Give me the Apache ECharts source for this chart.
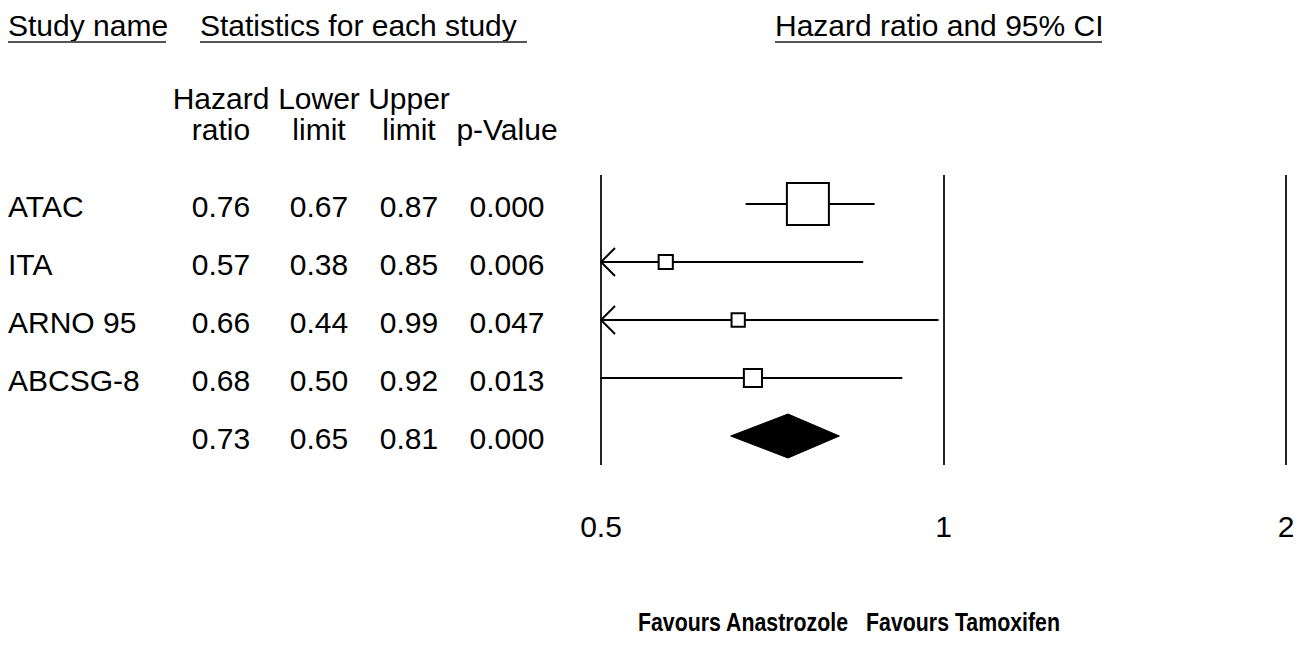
<!DOCTYPE html>
<html>
<head>
<meta charset="utf-8">
<script src="https://cdn.jsdelivr.net/npm/echarts@6/dist/echarts.min.js"></script>
<style>
  html, body { margin: 0; padding: 0; background: #ffffff; }
  #chart { width: 1307px; height: 664px; }
</style>
</head>
<body>
<div id="chart"></div>
<script>
// ---- data ----
const studies = ['ATAC', 'ITA', 'ARNO 95', 'ABCSG-8', ''];
const hazardRatio = [0.76, 0.57, 0.66, 0.68, 0.73];
const lowerLimit = [0.67, 0.38, 0.44, 0.50, 0.65];
const upperLimit = [0.87, 0.85, 0.99, 0.92, 0.81];
const pValue = ['0.000', '0.006', '0.047', '0.013', '0.000'];
const relWeight = [70, 8, 7, 13, 0];          // relative weight (%)
const isSummary = [false, false, false, false, true];
const tickValues = [0.5, 1, 2];
const columnHeaders1 = ['Hazard', 'Lower', 'Upper', ''];
const columnHeaders2 = ['ratio', 'limit', 'limit', 'p-Value'];
const favourLabels = ['Favours Anastrozole', 'Favours Tamoxifen'];

// ---- layout / style ----
const FONT = "'Liberation Sans', Arial, sans-serif";
const FS = 30;
const xMin = tickValues[0], xMax = tickValues[tickValues.length - 1];
const colX = [221, 319, 409, 507];
const nameX = 8;

const rows = studies.map((s, i) => [i, hazardRatio[i], lowerLimit[i], upperLimit[i], relWeight[i], isSummary[i] ? 1 : 0]);

function forestItem(params, api) {
  const row = api.value(0);
  const hr = api.value(1), lo = api.value(2), hi = api.value(3), w = api.value(4), summ = api.value(5);
  const loC = Math.max(lo, xMin), hiC = Math.min(hi, xMax);
  const pC = api.coord([hr, row]);
  const pL = api.coord([loC, row]);
  const pH = api.coord([hiC, row]);
  const y = pC[1];
  const stroke = { stroke: '#000', lineWidth: 2, fill: null };
  if (summ) {
    const h = 22;
    return {
      type: 'polygon',
      shape: { points: [[pL[0], y], [pC[0], y - h], [pH[0], y], [pC[0], y + h]] },
      style: { fill: '#000', stroke: '#000', lineWidth: 1 }
    };
  }
  const children = [{
    type: 'line', shape: { x1: pL[0], y1: y, x2: pH[0], y2: y }, style: stroke
  }];
  if (lo < xMin) {
    children.push({ type: 'line', shape: { x1: pL[0], y1: y, x2: pL[0] + 14, y2: y - 14 }, style: stroke });
    children.push({ type: 'line', shape: { x1: pL[0], y1: y, x2: pL[0] + 14, y2: y + 14 }, style: stroke });
  }
  if (hi > xMax) {
    children.push({ type: 'line', shape: { x1: pH[0], y1: y, x2: pH[0] - 14, y2: y - 14 }, style: stroke });
    children.push({ type: 'line', shape: { x1: pH[0], y1: y, x2: pH[0] - 14, y2: y + 14 }, style: stroke });
  }
  const s = 5.02 * Math.sqrt(w);
  children.push({
    type: 'rect', shape: { x: pC[0] - s / 2, y: y - s / 2, width: s, height: s },
    style: { fill: '#fff', stroke: '#000', lineWidth: 2 }
  });
  return { type: 'group', children: children };
}

function tableItem(params, api) {
  const i = params.dataIndex;
  const y = api.coord([xMin, api.value(0)])[1] + 2;
  const t = (txt, x, align) => ({
    type: 'text', x: x, y: y,
    style: { text: txt, font: FS + 'px ' + FONT, fill: '#000', align: align, verticalAlign: 'middle' }
  });
  return {
    type: 'group',
    children: [
      t(studies[i], nameX, 'left'),
      t(hazardRatio[i].toFixed(2), colX[0], 'center'),
      t(lowerLimit[i].toFixed(2), colX[1], 'center'),
      t(upperLimit[i].toFixed(2), colX[2], 'center'),
      t(pValue[i], colX[3], 'center')
    ]
  };
}

const txt = (s, x, y, align, font, sx) => ({
  type: 'text', x: x, y: y, scaleX: sx || 1,
  style: { text: s, font: font || (FS + 'px ' + FONT), fill: '#000', align: align || 'left', verticalAlign: 'middle' }
});
const uline = (x1, x2, y) => ({
  type: 'line', shape: { x1: x1, y1: y, x2: x2, y2: y }, style: { stroke: '#555', lineWidth: 2 }
});

const graphics = [
  txt('Study name', 8, 25),
  uline(8, 166, 42),
  txt('Statistics for each study', 200, 25),
  uline(200, 527, 42),
  txt('Hazard ratio and 95% CI', 775, 25),
  uline(775, 1102, 42)
];
columnHeaders1.forEach((h, k) => { if (h) graphics.push(txt(h, colX[k], 98, 'center')); });
columnHeaders2.forEach((h, k) => { if (h) graphics.push(txt(h, colX[k], 129, 'center')); });
graphics.push(txt(favourLabels[0], 743, 622, 'center', 'bold 26px ' + FONT, 0.82));
graphics.push(txt(favourLabels[1], 963, 622, 'center', 'bold 26px ' + FONT, 0.82));

const chart = echarts.init(document.getElementById('chart'), null, { renderer: 'svg' });
chart.setOption({
  animation: false,
  backgroundColor: '#fff',
  grid: { left: 601, right: 21, top: 175, bottom: 199 },
  xAxis: {
    type: 'log', logBase: 2, min: xMin, max: xMax,
    axisLine: { show: false }, axisTick: { show: false },
    splitLine: { show: true, lineStyle: { color: '#222', width: 2 } },
    axisLabel: {
      show: true, margin: 46, fontSize: FS, fontFamily: FONT, color: '#000',
      formatter: v => { const m = tickValues.find(t => Math.abs(t - v) < 1e-6); return m !== undefined ? String(m) : ''; }
    }
  },
  yAxis: {
    type: 'category', data: studies.map((s, i) => s || ('row' + i)), inverse: true, show: false,
    axisLine: { show: false }, splitLine: { show: false }
  },
  series: [
    { type: 'custom', data: rows, encode: { x: [1, 2, 3], y: 0 }, renderItem: forestItem, clip: false, silent: true },
    { type: 'custom', data: rows, encode: { x: 1, y: 0 }, renderItem: tableItem, clip: false, silent: true }
  ],
  graphic: graphics
});
</script>
</body>
</html>
